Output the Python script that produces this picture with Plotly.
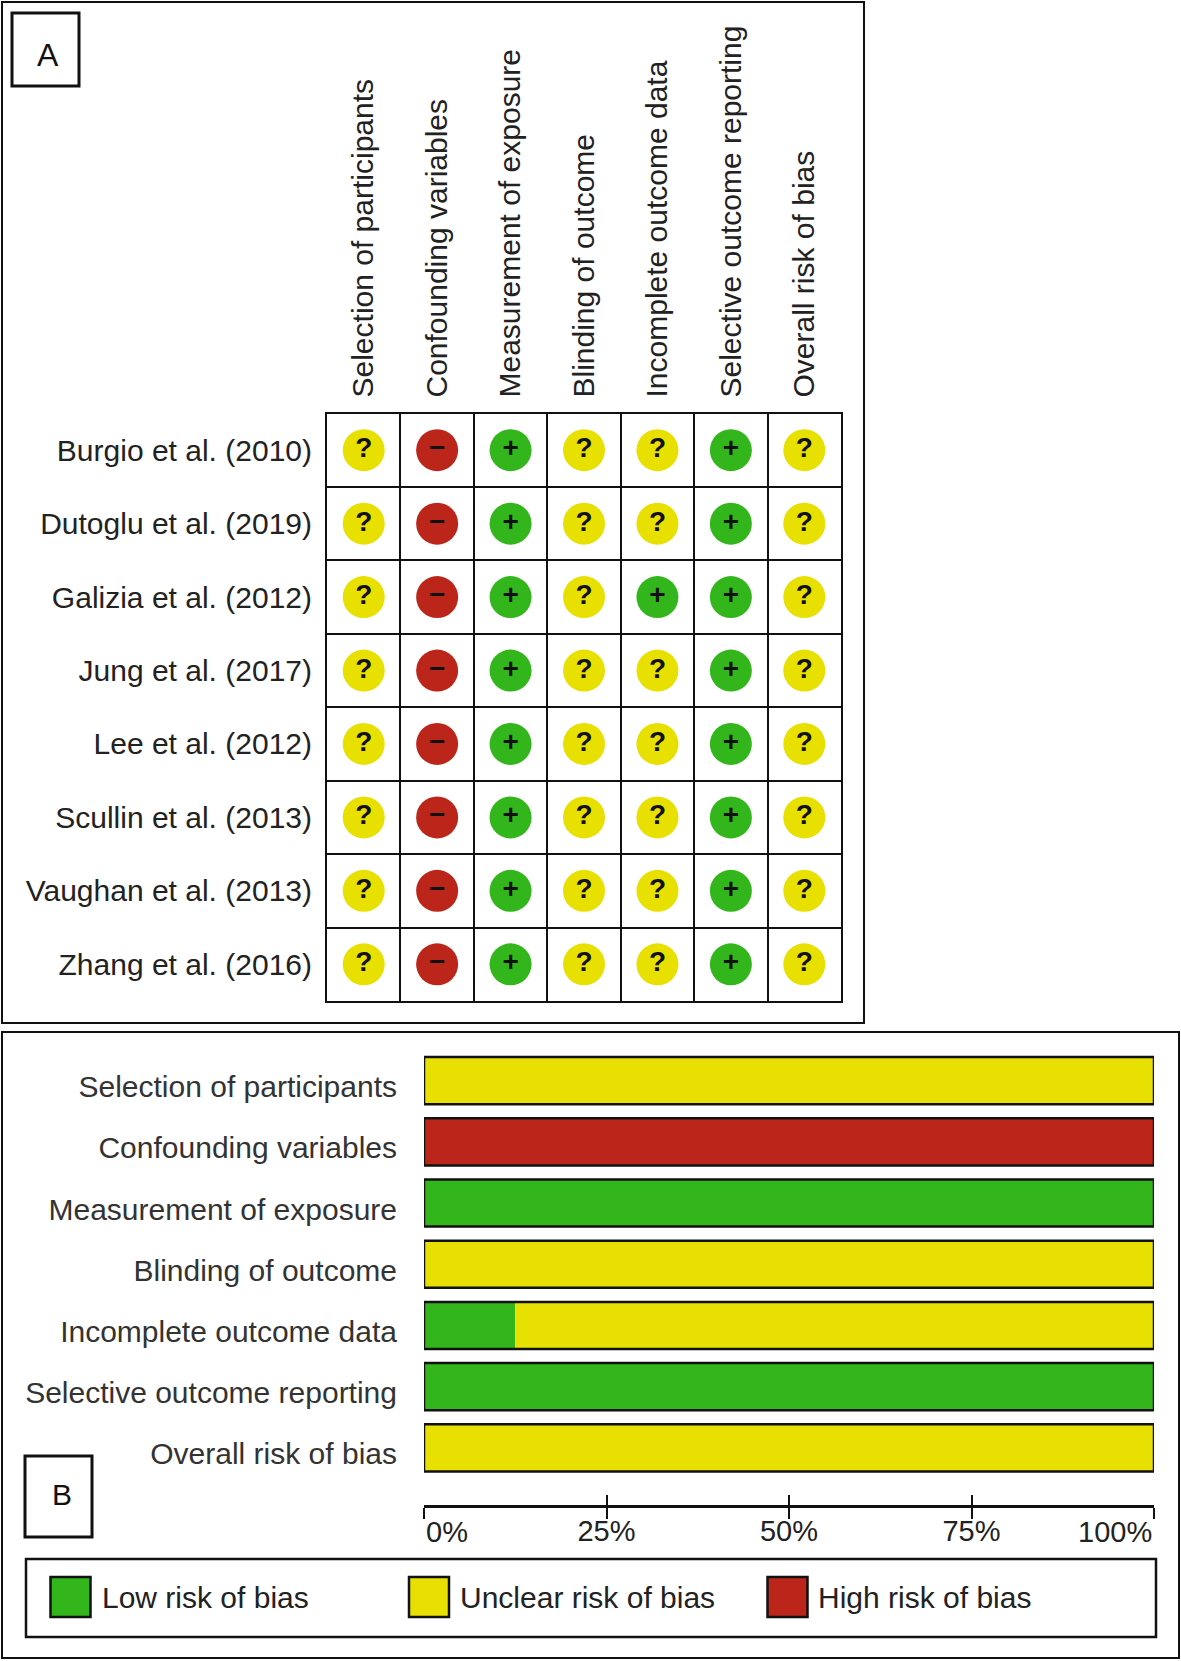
import plotly.graph_objects as go

W, H = 1181, 1661

# panel A: judgement per study, one letter per domain
domains = ['Selection of participants', 'Confounding variables', 'Measurement of exposure',
           'Blinding of outcome', 'Incomplete outcome data', 'Selective outcome reporting',
           'Overall risk of bias']
studies = ['Burgio et al. (2010)', 'Dutoglu et al. (2019)', 'Galizia et al. (2012)', 'Jung et al. (2017)',
           'Lee et al. (2012)', 'Scullin et al. (2013)', 'Vaughan et al. (2013)', 'Zhang et al. (2016)']
burgio = ['?', '-', '+', '?', '?', '+', '?']
dutoglu = ['?', '-', '+', '?', '?', '+', '?']
galizia = ['?', '-', '+', '?', '+', '+', '?']
jung = ['?', '-', '+', '?', '?', '+', '?']
lee = ['?', '-', '+', '?', '?', '+', '?']
scullin = ['?', '-', '+', '?', '?', '+', '?']
vaughan = ['?', '-', '+', '?', '?', '+', '?']
zhang = ['?', '-', '+', '?', '?', '+', '?']
judgements = [burgio, dutoglu, galizia, jung, lee, scullin, vaughan, zhang]

# panel B: percentage of studies per domain
low_risk = [0, 0, 100, 0, 12.5, 100, 0]
unclear_risk = [100, 0, 0, 100, 87.5, 0, 100]
high_risk = [0, 100, 0, 0, 0, 0, 0]
totals = [100, 100, 100, 100, 100, 100, 100]
pct_ticks = [0, 25, 50, 75, 100]
pct_labels = ['', '25%', '50%', '75%', '']

GREEN = '#33B61B'
YELLOW = '#E8E000'
RED = '#BC261A'
FONT = 'Liberation Sans'
legend_items = [('Low risk of bias', GREEN), ('Unclear risk of bias', YELLOW), ('High risk of bias', RED)]
symbol_styles = {'+': (GREEN, '+'), '?': (YELLOW, '?'), '-': (RED, '−')}


def px_x(v):
    return v / W


def px_y(v):
    return 1 - v / H


def box(x0, y0, x1, y1, width=2, fill=None):
    return dict(type='rect', xref='paper', yref='paper', x0=px_x(x0), x1=px_x(x1), y0=px_y(y0), y1=px_y(y1),
                line=dict(color='#111111', width=width), fillcolor=fill, layer='below' if fill is None else 'above')


def label(text, x, y, size=30, color='#222222', anchor='left'):
    return dict(text=text, xref='paper', yref='paper', x=px_x(x), y=px_y(y), showarrow=False, xanchor=anchor,
                yanchor='middle', font=dict(family=FONT, size=size, color=color))


fig = go.Figure()

# traffic lights, one trace per judgement
for key, (colour, glyph) in symbol_styles.items():
    xs, ys = [], []
    for study, row in zip(studies, judgements):
        for domain, value in zip(domains, row):
            if value == key:
                xs.append(domain)
                ys.append(study)
    fig.add_trace(go.Scatter(x=xs, y=ys, mode='markers+text', xaxis='x', yaxis='y',
                             marker=dict(size=42, color=colour, line=dict(width=0)),
                             text=[glyph] * len(xs), textposition='middle center',
                             textfont=dict(family=FONT, size=28, color='#111111', weight='bold'),
                             showlegend=False))

# summary bars, overlaid with explicit bases so no divider is drawn between segments
bases_unclear = low_risk
bases_high = [a + b for a, b in zip(low_risk, unclear_risk)]
for name, vals, base, colour in [('Low risk of bias', low_risk, None, GREEN),
                                 ('Unclear risk of bias', unclear_risk, bases_unclear, YELLOW),
                                 ('High risk of bias', high_risk, bases_high, RED)]:
    fig.add_trace(go.Bar(x=vals, y=domains, base=base, orientation='h', name=name, xaxis='x2', yaxis='y2',
                         marker=dict(color=colour, line=dict(width=0)), showlegend=False))
fig.add_trace(go.Bar(x=totals, y=domains, orientation='h', xaxis='x2', yaxis='y2', showlegend=False,
                     marker=dict(color='rgba(0,0,0,0)', line=dict(color='#111111', width=2.5))))

# empty trace so the tick-only axis above the line gets drawn
fig.add_trace(go.Scatter(x=[0, 100], y=[domains[0], domains[0]], mode='none', xaxis='x3', yaxis='y2',
                         showlegend=False))

shapes = [box(2, 2, 864, 1023), box(2, 1032, 1179, 1658),
          box(12, 13, 79, 86, width=3), box(25, 1456, 92, 1537, width=3),
          box(26, 1559, 1156, 1637, width=2.5)]
annotations = [label('A', 48, 55, size=32, color='#111111', anchor='center'),
               label('B', 62, 1494, size=30, color='#111111', anchor='center')]

for (text, colour), sx, tx in zip(legend_items, [50.5, 409, 767.5], [100, 458, 816]):
    shapes.append(box(sx, 1577, sx + 40, 1617, width=2.5, fill=colour))
    annotations.append(label(text, tx, 1597, color='#222222'))

# end labels of the percent axis sit inside the axis ends
axis_y = 1506
annotations.append(dict(text='0%', xref='x2', yref='paper', x=0, y=px_y(1532), showarrow=False, xanchor='left',
                        yanchor='middle', font=dict(family=FONT, size=29, color='#222222')))
annotations.append(dict(text='100%', xref='x2', yref='paper', x=100, y=px_y(1532), showarrow=False, xanchor='right',
                        yanchor='middle', font=dict(family=FONT, size=29, color='#222222')))

fig.update_layout(
    width=W, height=H, margin=dict(l=0, r=0, t=0, b=0, pad=0, autoexpand=False),
    paper_bgcolor='white', plot_bgcolor='white', barmode='overlay', bargap=0.23,
    shapes=shapes, annotations=annotations,
    xaxis=dict(domain=[px_x(327), px_x(841)], anchor='y', side='top', type='category', categoryorder='array',
               categoryarray=domains, range=[-0.5, 6.5], tickangle=-90, tickson='boundaries', showgrid=True,
               gridcolor='#111111', gridwidth=2, showline=True, linecolor='#111111', linewidth=2, mirror=True,
               ticks='', ticklabelstandoff=8, zeroline=False,
               tickfont=dict(family=FONT, size=30, color='#222222')),
    yaxis=dict(domain=[px_y(1001), px_y(413.5)], anchor='x', type='category', categoryorder='array',
               categoryarray=studies, range=[7.5, -0.5], tickson='boundaries', showgrid=True,
               gridcolor='#111111', gridwidth=2, showline=True, linecolor='#111111', linewidth=2, mirror=True,
               ticks='', ticklabelstandoff=7, zeroline=False,
               tickfont=dict(family=FONT, size=30, color='#222222')),
    xaxis2=dict(domain=[px_x(424), px_x(1154)], range=[0, 100], anchor='free', position=px_y(axis_y),
                tickvals=pct_ticks, ticktext=pct_labels, ticks='outside', ticklen=11, tickwidth=1.5,
                tickcolor='#111111', showline=True, linecolor='#111111', linewidth=2.5, showgrid=False,
                zeroline=False, ticklabelstandoff=-13, tickfont=dict(family=FONT, size=29, color='#222222')),
    xaxis3=dict(overlaying='x2', domain=[px_x(424), px_x(1154)], range=[0, 100], anchor='free',
                position=px_y(axis_y), tickvals=pct_ticks, ticktext=['', '', '', '', ''], ticks='inside', ticklen=11,
                tickwidth=1.5, tickcolor='#111111', showline=False, showgrid=False, zeroline=False),
    yaxis2=dict(domain=[px_y(1478.5), px_y(1050)], anchor='x2', type='category', categoryorder='array',
                categoryarray=domains, range=[6.5, -0.5], showgrid=False, showline=False, zeroline=False,
                ticks='', ticklabelstandoff=26, ticklabelshift=-6,
                tickfont=dict(family=FONT, size=30, color='#333333')),
)

fig.write_html('out.html', config=dict(displayModeBar=False), post_script="document.body.style.margin='0';")
